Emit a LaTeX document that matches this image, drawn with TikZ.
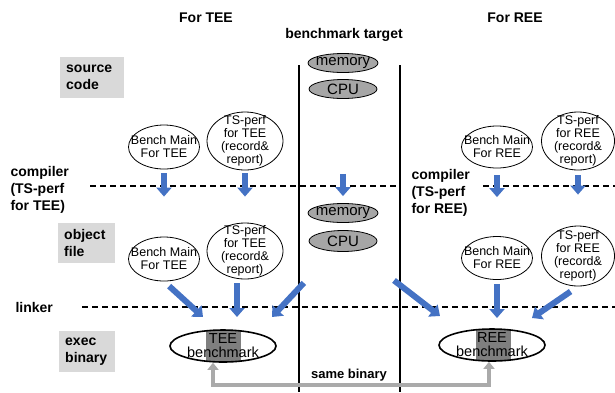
\documentclass[tikz,border=0pt]{standalone}
\usepackage{fontspec}
\setmainfont{Liberation Sans}
\usepackage{xcolor}
\usetikzlibrary{positioning}
\usetikzlibrary{shapes.geometric}
\usetikzlibrary{arrows.meta}

\definecolor{flowblue}{HTML}{4472C4}
\definecolor{stagegray}{HTML}{D9D9D9}
\definecolor{hwgray}{HTML}{A6A6A6}
\definecolor{bingray}{HTML}{7F7F7F}
\definecolor{samegray}{HTML}{AAAAAA}

\tikzset{
  head/.style={font=\bfseries\fontsize{14}{17}\selectfont, align=left},
  stagebox/.style={fill=stagegray, anchor=north west, inner xsep=6pt, inner ysep=0pt,
    font=\bfseries\fontsize{14}{17}\selectfont, align=left},
  oval/.style={ellipse, draw, line width=0.8pt, inner xsep=-8pt, inner ysep=-6pt,
    font=\fontsize{12.5}{13}\selectfont, align=center},
  hwoval/.style={ellipse, draw, fill=hwgray, line width=0.8pt, minimum width=70pt,
    minimum height=19pt, inner xsep=-8pt, inner ysep=-5pt, font=\fontsize{15}{16}\selectfont},
  binoval/.style={ellipse, draw, line width=1.6pt, minimum width=106pt, minimum height=32pt,
    inner xsep=-8pt, inner ysep=-6pt, font=\fontsize{14.5}{14}\selectfont, align=center},
  binbg/.style={fill=bingray, minimum width=35pt, minimum height=32pt, inner sep=0pt},
  blk/.style={draw=flowblue, line width=6pt, -{Triangle[width=15pt,length=9pt]}},
  sep/.style={line width=1.5pt, dash pattern=on 6pt off 4pt},
  wall/.style={line width=2.6pt},
  samebin/.style={draw=samegray, line width=3.5pt, {Triangle[width=11pt,length=7pt]}-{Triangle[width=11pt,length=7pt]}}
}

\begin{document}
\begin{tikzpicture}[x=1pt, y=-1pt]
\useasboundingbox (0,0) rectangle (615,392);

% headings
\node[head] (hTEE) at (206,18) {For TEE};
\node[head] (hTarget) at (344,35) {benchmark target};
\node[head] (hREE) at (515,18) {For REE};

% separators
\draw[wall] (299,65) -- (299,392);
\draw[wall] (400,65) -- (400,392);
\draw[sep] (90,186) -- (400,186);
\draw[sep] (483,186) -- (615,186);
\draw[sep] (82,307) -- (615,307);

% stages
\node[stagebox, text width=52pt, minimum height=41pt] (stSrc) at (60,57) {source\\code};
\node[stagebox, text width=45pt, minimum height=40pt] (stObj) at (58,223) {object\\file};
\node[stagebox, text width=44pt, minimum height=41pt] (stExec) at (59,331) {exec\\binary};
\node[head, anchor=north west] (lbCompT) at (7,163) {compiler\\(TS-perf\\for TEE)};
\node[head, anchor=north west] (lbCompR) at (408,166) {compiler\\(TS-perf\\for REE)};
\node[head, anchor=west] (lbLink) at (12,307) {linker};

% source code
\node[hwoval] (mem) at (343,63) {memory};
\node[hwoval, minimum width=68pt] (cpu) at (343,89) {CPU};
\node[oval, minimum width=71pt, minimum height=44pt] (bmT) at (164,147) {Bench Main\\For TEE};
\node[oval, minimum width=76pt, minimum height=58pt] (tsT) at (245,141) {TS-perf\\for TEE\\(record\&\\report)};
\node[oval, minimum width=71pt, minimum height=42pt] (bmR) at (497,147) {Bench Main\\For REE};
\node[oval, minimum width=73pt, minimum height=58pt] (tsR) at (578,141) {TS-perf\\for REE\\(record\&\\report)};

% object file
\node[hwoval] (mem2) at (343,213) {memory};
\node[hwoval, minimum width=68pt, minimum height=21pt] (cpu2) at (343,241) {CPU};
\node[oval, minimum width=71pt, minimum height=44pt] (bmT2) at (164,259) {Bench Main\\For TEE};
\node[oval, minimum width=76pt, minimum height=56pt] (tsT2) at (245,251) {TS-perf\\for TEE\\(record\&\\report)};
\node[oval, minimum width=71pt, minimum height=43pt] (bmR2) at (497,258) {Bench Main\\For REE};
\node[oval, minimum width=73pt, minimum height=60pt] (tsR2) at (578,256) {TS-perf\\for REE\\(record\&\\report)};

% exec binary
\node[binbg] (teeBg) at (223.5,346) {};
\node[binoval] (teeBin) at (223,346) {TEE\\benchmark};
\node[binbg] (reeBg) at (493,345) {};
\node[binoval] (reeBin) at (492,345) {REE\\benchmark};

% compile
\draw[blk, shorten <=4pt, shorten >=40pt] (bmT) -- (bmT2);
\draw[blk, shorten <=3pt, shorten >=26pt] (tsT) -- (tsT2);
\draw[blk, shorten <=75pt, shorten >=7pt] (cpu) -- (mem2);
\draw[blk, shorten <=7pt, shorten >=39pt] (bmR) -- (bmR2);
\draw[blk, shorten <=5pt, shorten >=31pt] (tsR) -- (tsR2);

% link
\coordinate (lkA) at (203,317);
\coordinate (lkB) at (237,317);
\coordinate (lkC) at (272,317);
\coordinate (lkD) at (440,316);
\coordinate (lkE) at (497,318);
\coordinate (lkF) at (532,318);
\draw[blk, shorten <=7pt] (bmT2.south) -- (lkA);
\draw[blk, shorten <=4pt] (tsT2.south -| lkB) -- (lkB);
\draw[blk, shorten <=43pt] (cpu2) -- (lkC);
\draw[blk, shorten <=48pt] (cpu2) -- (lkD);
\draw[blk, shorten <=4pt] (bmR2.south) -- (lkE);
\draw[blk, shorten <=9pt] (tsR2.south) -- (lkF);

% same binary
\coordinate (sbL) at (213,385);
\coordinate (sbR) at (489,385);
\draw[samebin] (teeBin.south -| sbL) -- (sbL) -- (sbR) -- (reeBin.south -| sbR);
\node[head, font=\bfseries\fontsize{13}{15}\selectfont] (sbText) at (349,375) {same binary};
\end{tikzpicture}
\end{document}
